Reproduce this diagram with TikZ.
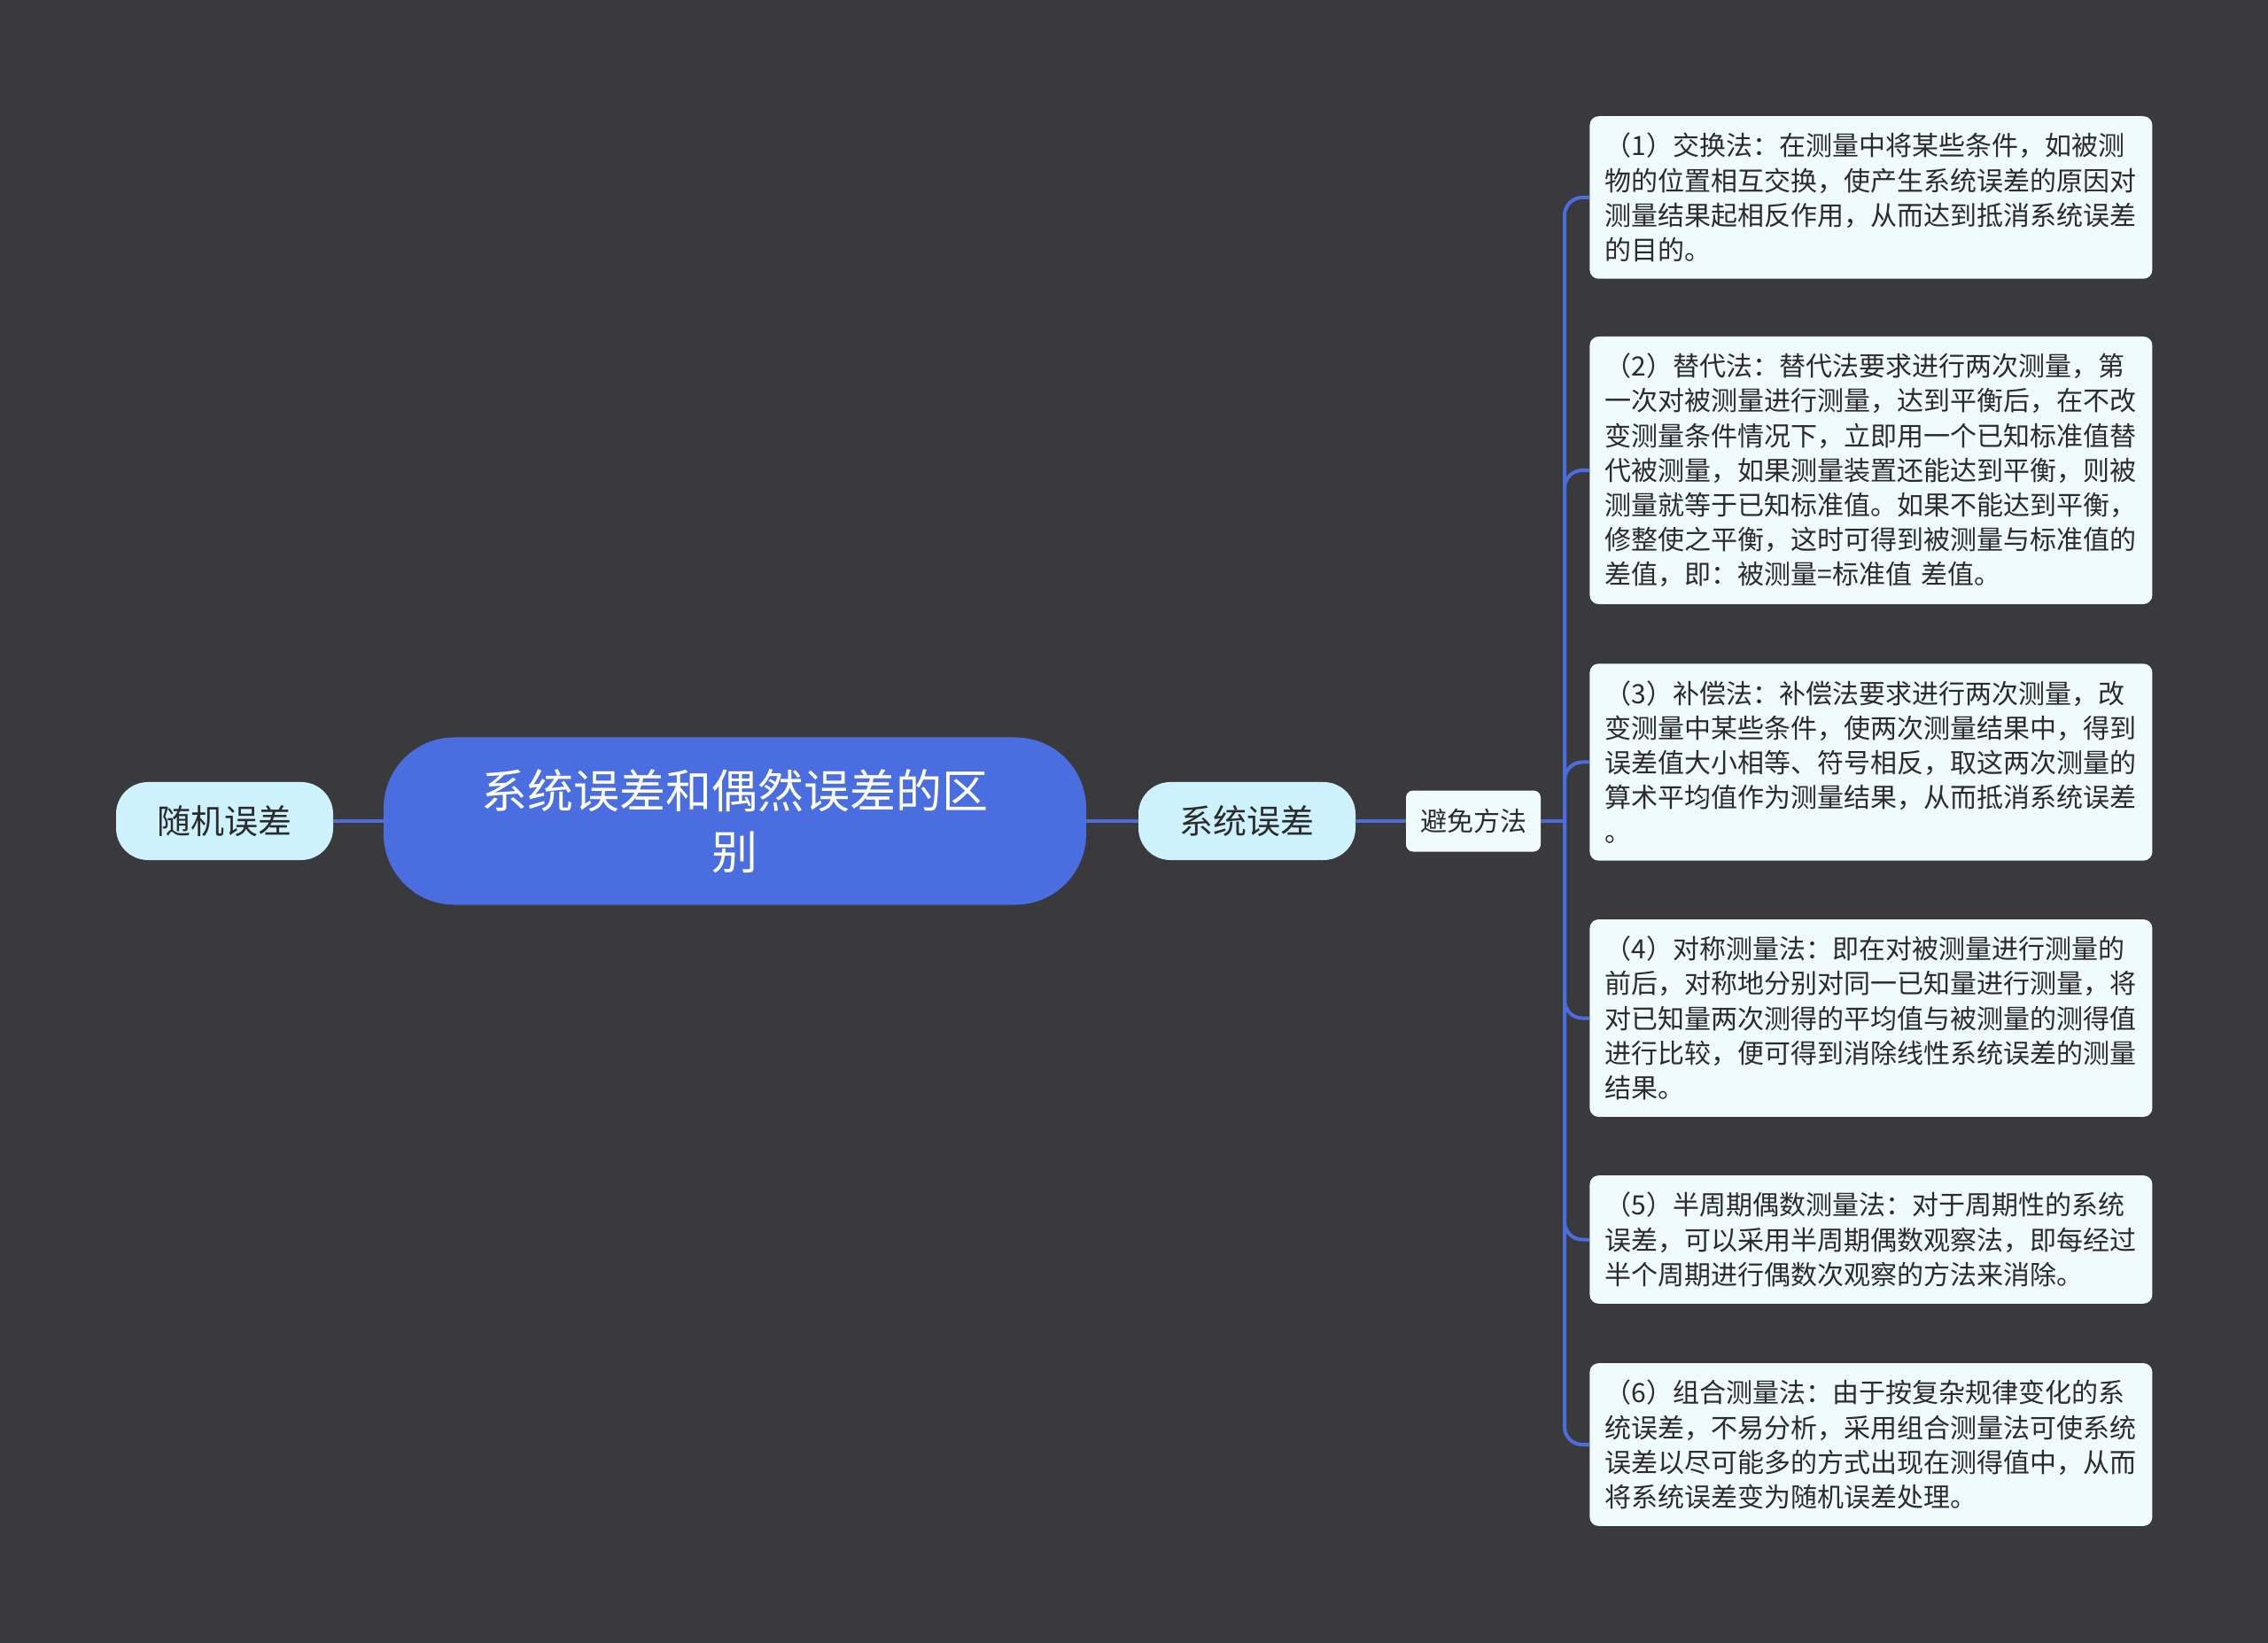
\documentclass[tikz,border=0pt]{standalone}
\usepackage{fontspec}
\setmainfont{Noto Sans CJK SC}
\usepackage{xcolor}
\usepackage{tikz}
\usetikzlibrary{positioning}
\definecolor{bgColor}{HTML}{3A393C}
\definecolor{rootColor}{HTML}{4A6EE0}
\definecolor{topicColor}{HTML}{CDF1FD}
\definecolor{leafColor}{HTML}{F0FBFD}
\definecolor{inkColor}{HTML}{2B2B2B}

\begin{document}
\begin{tikzpicture}[x=1pt, y=-1pt,
    root/.style={fill=rootColor, text=white, rounded corners=40pt, align=center,
        minimum width=396.5pt, minimum height=94.5pt,
        font=\fontsize{26pt}{34.3pt}\selectfont},
    topic/.style={fill=topicColor, text=inkColor, rounded corners=18pt,
        minimum width=122.5pt, minimum height=44pt, font=\fontsize{19pt}{23pt}\selectfont},
    method/.style={fill=leafColor, text=inkColor, rounded corners=4pt,
        minimum width=76pt, minimum height=34.5pt, font=\fontsize{15pt}{18pt}\selectfont},
    leaf/.style={fill=leafColor, text=inkColor, rounded corners=5pt, anchor=west,
        text width=300pt, align=left, inner xsep=8.75pt, inner ysep=9.5pt,
        font=\fontsize{15pt}{19.6pt}\selectfont},
    link/.style={draw=rootColor, line width=2pt}]
    \fill[bgColor] (0,0) rectangle (1280,927.5);
    \useasboundingbox (0,0) rectangle (1280,927.5);

    \node[root] (root) at (414.75,463.5) {系统误差和偶然误差的区\\别};
    \node[topic] (random) at (126.75,463.5) {随机误差};
    \node[topic] (system) at (703.75,463.5) {系统误差};
    \node[method] (avoid) at (831.5,463.5) {避免方法};
    \coordinate (fork) at (883,463.5);

    \node[leaf] (m1) at (897,111.5) {（1）交换法：在测量中将某些条件，如被测\\
物的位置相互交换，使产生系统误差的原因对\\
测量结果起相反作用，从而达到抵消系统误差\\
的目的。};
    \node[leaf] (m2) at (897,265.5) {（2）替代法：替代法要求进行两次测量，第\\
一次对被测量进行测量，达到平衡后，在不改\\
变测量条件情况下，立即用一个已知标准值替\\
代被测量，如果测量装置还能达到平衡，则被\\
测量就等于已知标准值。如果不能达到平衡，\\
修整使之平衡，这时可得到被测量与标准值的\\
差值，即：被测量=标准值 差值。};
    \node[leaf] (m3) at (897,430.25) {（3）补偿法：补偿法要求进行两次测量，改\\
变测量中某些条件，使两次测量结果中，得到\\
误差值大小相等、符号相反，取这两次测量的\\
算术平均值作为测量结果，从而抵消系统误差\\
。};
    \node[leaf] (m4) at (897,574.75) {（4）对称测量法：即在对被测量进行测量的\\
前后，对称地分别对同一已知量进行测量，将\\
对已知量两次测得的平均值与被测量的测得值\\
进行比较，便可得到消除线性系统误差的测量\\
结果。};
    \node[leaf] (m5) at (897,699.75) {（5）半周期偶数测量法：对于周期性的系统\\
误差，可以采用半周期偶数观察法，即每经过\\
半个周期进行偶数次观察的方法来消除。};
    \node[leaf] (m6) at (897,815.5) {（6）组合测量法：由于按复杂规律变化的系\\
统误差，不易分析，采用组合测量法可使系统\\
误差以尽可能多的方式出现在测得值中，从而\\
将系统误差变为随机误差处理。};

    \draw[link] (root) -- (random);
    \draw[link] (root) -- (system);
    \draw[link] (system) -- (avoid);
    \draw[link] (avoid) -- (fork);
    \foreach \m in {m1,m2,m3,m4,m5,m6}
        \draw[link, rounded corners=10pt] (fork) |- (\m.west);
\end{tikzpicture}
\end{document}
